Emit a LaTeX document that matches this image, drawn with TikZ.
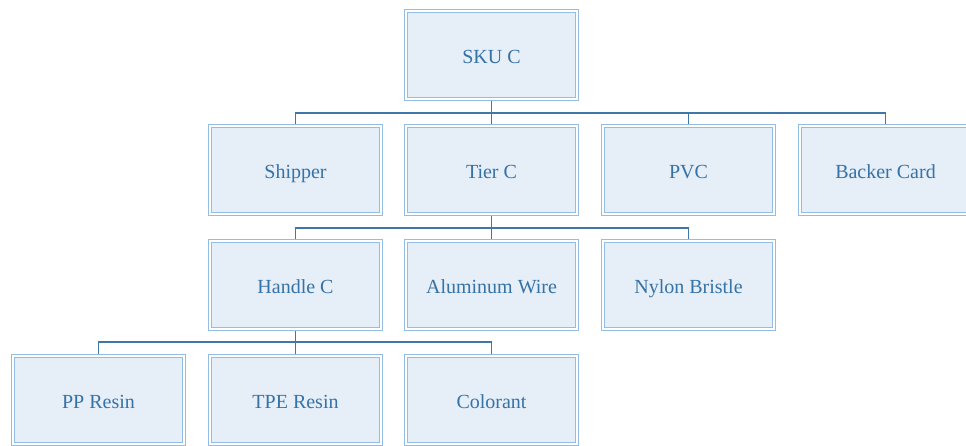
\documentclass[tikz,border=0pt]{standalone}
\usepackage{fontspec}
\setmainfont{Liberation Serif}
\definecolor{boxedge}{HTML}{94BDE6}
\definecolor{boxfill}{HTML}{E6EEF8}
\definecolor{boxtext}{HTML}{3572A6}
\definecolor{wire}{HTML}{3F77A8}
\begin{document}
\begin{tikzpicture}[x=1pt,y=-1pt,
  part/.style={draw=boxedge, double=white, double distance=2pt, line width=1.1pt,
    fill=boxfill, minimum width=171pt, minimum height=88pt, inner sep=0pt,
    outer sep=2pt, text=boxtext, font=\fontsize{20}{24}\selectfont,
    text height=18pt, text depth=2pt},
  link/.style={draw=wire, line width=1.2pt}]
\useasboundingbox (0,0) rectangle (966,445);

% level 0
\node[part] (sku) at (491.5,55) {SKU C};
% level 1
\node[part] (ship) at (295.5,170) {Shipper};
\node[part] (tier) at (491.5,170) {Tier C};
\node[part] (pvc) at (688.5,170) {PVC};
\node[part] (backer) at (885.5,170) {Backer Card};
% level 2
\node[part] (handle) at (295.5,285) {Handle C};
\node[part] (wireal) at (491.5,285) {Aluminum Wire};
\node[part] (nylon) at (688.5,285) {Nylon Bristle};
% level 3
\node[part] (pp) at (98.5,400) {PP Resin};
\node[part] (tpe) at (295.5,400) {TPE Resin};
\node[part] (color) at (491.5,400) {Colorant};

% bus points below each parent
\coordinate (b0) at (491.5,113);
\coordinate (b1) at (491.5,228);
\coordinate (b2) at (295.5,342);

\draw[link] (sku.south) -- (b0);
\draw[link] (b0) -| (ship.north);
\draw[link] (b0) -- (tier.north);
\draw[link] (b0) -| (pvc.north);
\draw[link] (b0) -| (backer.north);

\draw[link] (tier.south) -- (b1);
\draw[link] (b1) -| (handle.north);
\draw[link] (b1) -- (wireal.north);
\draw[link] (b1) -| (nylon.north);

\draw[link] (handle.south) -- (b2);
\draw[link] (b2) -| (pp.north);
\draw[link] (b2) -- (tpe.north);
\draw[link] (b2) -| (color.north);
\end{tikzpicture}
\end{document}
